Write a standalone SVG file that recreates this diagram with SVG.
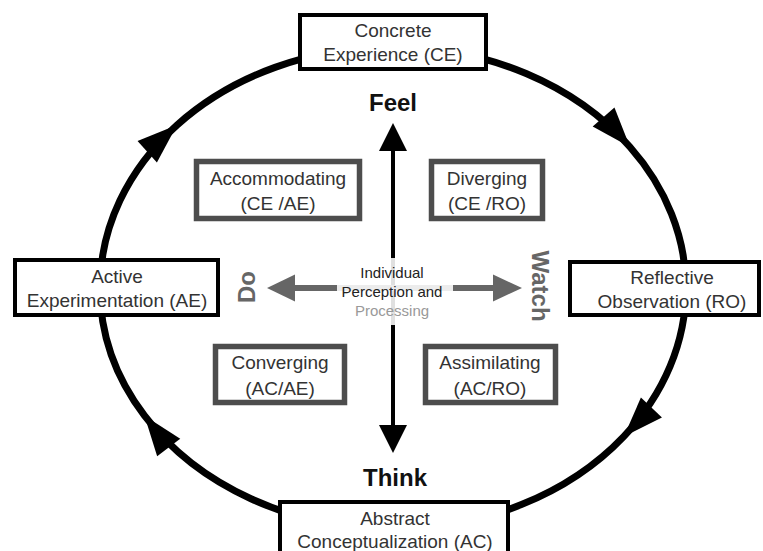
<svg xmlns="http://www.w3.org/2000/svg" width="763" height="551" viewBox="0 0 763 551">
<style>
.obox{fill:#fff;stroke:#000;stroke-width:4}
.ibox{fill:#fff;stroke:#4d4d4d;stroke-width:5.5}
.t{font-family:"Liberation Sans",Arial,sans-serif;font-size:19px;fill:#333;text-anchor:middle}
.big{font-family:"Liberation Sans",Arial,sans-serif;font-size:24px;font-weight:bold;text-anchor:middle}
.small{font-family:"Liberation Sans",Arial,sans-serif;font-size:15px;text-anchor:middle}
.cyc{fill:none;stroke:#000;stroke-width:7;marker-mid:url(#head)}
</style>
<defs>
<marker id="head" markerUnits="userSpaceOnUse" viewBox="-42 -16 44 32" markerWidth="44" markerHeight="32" refX="0" refY="0" orient="auto">
<path d="M0,0 L-40,-14.5 L-40,14.5 Z" fill="#000"/>
</marker>
</defs>
<g id="connectors">
<path class="cyc" d="M393,47 A293,241 0 0 1 630,147 A293,241 0 0 1 686,288"/>
<path class="cyc" d="M686,288 A293,241 0 0 1 623.9,436.4 A293,241 0 0 1 393,529"/>
<path class="cyc" d="M393,529 A293,241 0 0 1 144.5,415.7 A293,241 0 0 1 100,288"/>
<path class="cyc" d="M100,288 A293,241 0 0 1 177,125.1 A293,241 0 0 1 393,47"/>
<line x1="393" y1="148" x2="393" y2="427" stroke="#000" stroke-width="4"/>
<polygon points="393,123 379,151 407,151" fill="#000"/>
<polygon points="393,453 379,425 407,425" fill="#000"/>
<line x1="292" y1="288" x2="496" y2="288" stroke="#666" stroke-width="6"/>
<polygon points="267,288 295,274.5 295,301.5" fill="#666"/>
<polygon points="522,288 493,274.5 493,301.5" fill="#666"/>
</g>
<g id="center">
<rect x="337" y="258" width="116" height="67" fill="#fff" opacity="0.88"/>
<text class="small" x="392" y="278" fill="#222">Individual</text>
<text class="small" x="392" y="297" fill="#222">Perception and</text>
<text class="small" x="392" y="316" fill="#999">Processing</text>
</g>
<g id="feel"><text class="big" x="393" y="111" fill="#111">Feel</text></g>
<g id="think"><text class="big" x="395" y="486" fill="#111">Think</text></g>
<g id="do"><text class="big" transform="translate(255,287) rotate(-90)" fill="#666">Do</text></g>
<g id="watch"><text class="big" transform="translate(532,286) rotate(90)" fill="#666">Watch</text></g>
<g id="ce">
<rect class="obox" x="300" y="15" width="186" height="54"/>
<text class="t" x="393" y="37">Concrete</text>
<text class="t" x="393" y="61">Experience (CE)</text>
</g>
<g id="ae">
<rect class="obox" x="15" y="260" width="203" height="55"/>
<text class="t" x="117" y="283">Active</text>
<text class="t" x="117" y="307">Experimentation (AE)</text>
</g>
<g id="ro">
<rect class="obox" x="570" y="262" width="189" height="53"/>
<text class="t" x="672" y="284">Reflective</text>
<text class="t" x="672" y="308">Observation (RO)</text>
</g>
<g id="ac">
<rect class="obox" x="280" y="502" width="228" height="62"/>
<text class="t" x="395" y="525">Abstract</text>
<text class="t" x="395" y="548">Conceptualization (AC)</text>
</g>
<g id="accommodating">
<rect class="ibox" x="196.5" y="161.5" width="163" height="57"/>
<text class="t" x="278" y="185">Accommodating</text>
<text class="t" x="278" y="210">(CE /AE)</text>
</g>
<g id="diverging">
<rect class="ibox" x="431.5" y="161.5" width="111" height="57"/>
<text class="t" x="487" y="185">Diverging</text>
<text class="t" x="487" y="210">(CE /RO)</text>
</g>
<g id="converging">
<rect class="ibox" x="215.5" y="346.5" width="129" height="56"/>
<text class="t" x="280" y="369">Converging</text>
<text class="t" x="280" y="395">(AC/AE)</text>
</g>
<g id="assimilating">
<rect class="ibox" x="425.5" y="346.5" width="130" height="56"/>
<text class="t" x="490" y="369">Assimilating</text>
<text class="t" x="490" y="395">(AC/RO)</text>
</g>
</svg>
